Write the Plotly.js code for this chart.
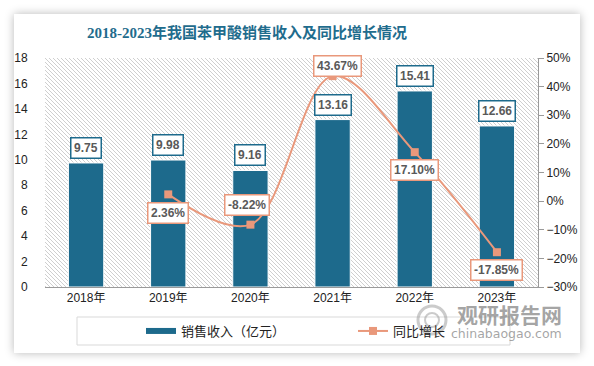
<!DOCTYPE html>
<html>
<head>
<meta charset="utf-8">
<script src="https://cdn.plot.ly/plotly-3.0.1.min.js"></script>
<style>
  html, body { margin: 0; padding: 0; background: #ffffff; }
  #card { position: absolute; left: 14px; top: 14px; width: 566px; height: 339px;
          background: #ffffff; box-shadow: 0 0 9px rgba(0,0,0,0.28); }
  #chart { position: absolute; left: 0; top: 0; width: 594px; height: 366px; }
</style>
</head>
<body>
<div id="card"></div>
<div id="chart"></div>
<script>
const years = ['2018年', '2019年', '2020年', '2021年', '2022年', '2023年'];
const revenue = [9.75, 9.98, 9.16, 13.16, 15.41, 12.66];
const growth = [null, 2.36, -8.22, 43.67, 17.10, -17.85];
const revenueName = '销售收入（亿元）';
const growthName = '同比增长';
const titleText = '2018-2023年我国苯甲酸销售收入及同比增长情况';

const barColor = '#1D6A8C';
const lineColor = '#E9987B';
const labelFont = { family: 'Liberation Sans, Arial, sans-serif', size: 12, color: '#595959', weight: 'bold' };

// label offsets (pixels) for the growth labels
const growthShift = [null, [0, -19], [-3, 20], [5, 10], [0, -18], [0, -18]];

const hatch = 'data:image/svg+xml;utf8,' + encodeURIComponent(
  '<svg xmlns="http://www.w3.org/2000/svg" width="493" height="229" viewBox="0 0 493 229" preserveAspectRatio="none">' +
  '<defs><pattern id="p" patternUnits="userSpaceOnUse" width="4" height="4">' +
  '<path d="M-1,-1 L5,5 M-1,3 L1,5 M3,-1 L5,1" stroke="#cfcfcf" stroke-width="1"/></pattern></defs>' +
  '<rect width="493" height="229" fill="url(#p)"/></svg>');

const traces = [
  {
    type: 'bar', x: years, y: revenue, name: revenueName, showlegend: false,
    marker: { color: barColor, line: { color: '#ffffff', width: 1 } },
    width: 0.43, yaxis: 'y', hoverinfo: 'x+y'
  },
  {
    type: 'scatter', mode: 'lines', x: [null], y: [null], name: revenueName,
    line: { color: barColor, width: 6 }, yaxis: 'y', hoverinfo: 'skip'
  },
  {
    type: 'scatter', mode: 'lines+markers', x: years, y: growth, name: growthName,
    yaxis: 'y2', connectgaps: false,
    line: { color: lineColor, width: 2, shape: 'spline', smoothing: 1 },
    marker: { symbol: 'square', size: 8, color: lineColor }
  }
];

const px = (v) => (v - 45) / 493;
const py = (v) => (287 - v) / 229;

const annotations = [];
years.forEach((yr, i) => {
  annotations.push({
    x: yr, y: revenue[i], xref: 'x', yref: 'y', text: revenue[i].toFixed(2),
    showarrow: false, yshift: 15, font: labelFont,
    bgcolor: '#ffffff', bordercolor: barColor, borderwidth: 1.5, borderpad: 2.5
  });
  if (growth[i] !== null) {
    annotations.push({
      x: yr, y: growth[i], xref: 'x', yref: 'y2', text: growth[i].toFixed(2) + '%',
      showarrow: false, xshift: growthShift[i][0], yshift: growthShift[i][1], font: labelFont,
      bgcolor: '#ffffff', bordercolor: lineColor, borderwidth: 1.5, borderpad: 2.5
    });
  }
});
// watermark
annotations.push({
  xref: 'paper', yref: 'paper', x: px(509), y: py(314), xanchor: 'center', yanchor: 'middle',
  text: '观研报告网', showarrow: false,
  font: { family: 'Noto Sans CJK SC', size: 21, color: 'rgba(125,125,125,0.7)', weight: 'bold' }
});
annotations.push({
  xref: 'paper', yref: 'paper', x: px(506), y: py(333), xanchor: 'center', yanchor: 'middle',
  text: 'chinabaogao.com', showarrow: false,
  font: { family: 'DejaVu Sans, sans-serif', size: 12.5, color: 'rgba(125,125,125,0.7)' }
});

const layout = {
  width: 594, height: 366,
  margin: { l: 45, r: 56, t: 58, b: 79 },
  paper_bgcolor: 'rgba(0,0,0,0)', plot_bgcolor: 'rgba(0,0,0,0)',
  title: {
    text: titleText, x: 247 / 594, xanchor: 'center', y: 1 - 33 / 366, yanchor: 'middle',
    font: { family: 'Liberation Serif, Noto Sans CJK SC, serif', size: 15, color: '#1F6C8D', weight: 'bold' }
  },
  font: { family: 'Liberation Sans, Noto Sans CJK SC, sans-serif', size: 12, color: '#222' },
  xaxis: {
    type: 'category', showline: true, linecolor: '#9a9a9a', linewidth: 1,
    ticks: '', showgrid: false, tickfont: { size: 12, color: '#222' }, fixedrange: true
  },
  yaxis: {
    range: [0, 18], dtick: 2, showgrid: false, zeroline: false, showline: false,
    ticks: 'outside', ticklen: 14, tickcolor: 'rgba(0,0,0,0)',
    tickfont: { size: 12, color: '#222' }
  },
  yaxis2: {
    overlaying: 'y', side: 'right', range: [-30, 50], dtick: 10, ticksuffix: '%',
    showgrid: false, zeroline: false, showline: true, linecolor: '#9a9a9a', linewidth: 1,
    ticks: 'outside', ticklen: 5, tickcolor: '#9a9a9a',
    tickfont: { size: 12, color: '#222' }
  },
  showlegend: true,
  legend: {
    orientation: 'h', x: px(141), xanchor: 'left', y: py(331), yanchor: 'middle',
    font: { family: 'Noto Sans CJK SC, sans-serif', size: 13, color: '#222' },
    bgcolor: 'rgba(0,0,0,0)', borderwidth: 0, entrywidth: 167, entrywidthmode: 'pixels',
    traceorder: 'normal'
  },
  shapes: [
    {
      type: 'rect', xref: 'paper', yref: 'paper',
      x0: px(77), x1: px(510), y0: py(345), y1: py(317),
      line: { color: '#d9d9d9', width: 1 }, fillcolor: 'rgba(0,0,0,0)'
    },
    {
      type: 'circle', xref: 'paper', yref: 'paper',
      x0: px(418), x1: px(446), y0: py(334), y1: py(306),
      line: { color: 'rgba(160,160,160,0.55)', width: 3 }, fillcolor: 'rgba(0,0,0,0)'
    },
    {
      type: 'circle', xref: 'paper', yref: 'paper',
      x0: px(425), x1: px(439), y0: py(327), y1: py(313),
      line: { color: 'rgba(160,160,160,0.55)', width: 2 }, fillcolor: 'rgba(0,0,0,0)'
    }
  ],
  images: [
    {
      source: hatch, xref: 'paper', yref: 'paper', x: 0, y: 1, sizex: 1, sizey: 1,
      xanchor: 'left', yanchor: 'top', sizing: 'stretch', layer: 'below'
    }
  ],
  annotations: annotations
};

Plotly.newPlot('chart', traces, layout, { displayModeBar: false, staticPlot: true });
</script>
</body>
</html>
